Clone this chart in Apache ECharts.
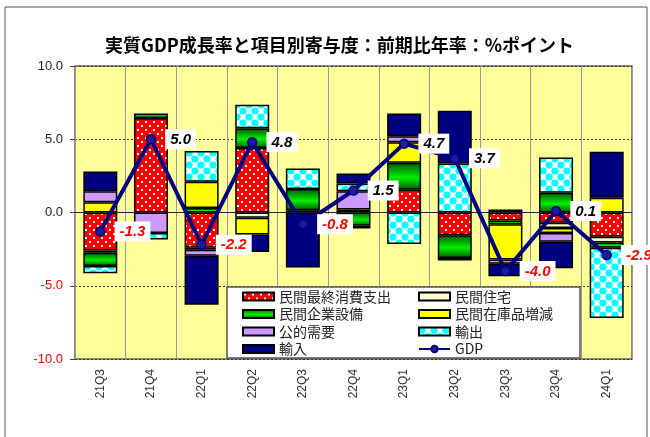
<!DOCTYPE html>
<html>
<head>
<meta charset="utf-8">
<script src="https://cdn.jsdelivr.net/npm/echarts@6/dist/echarts.min.js"></script>
<style>
  html, body { margin: 0; padding: 0; background: #fff; }
  #chart { width: 650px; height: 437px; }
</style>
</head>
<body>
<div id="chart"></div>
<script>
// 四半期
const quarters = ['21Q3', '21Q4', '22Q1', '22Q2', '22Q3', '22Q4', '23Q1', '23Q2', '23Q3', '23Q4', '24Q1']
// 寄与度（%ポイント）
const consumption = [-2.6, 6.45, -2.4, 4.4, 0.15, 0.2, 1.55, -1.55, -0.55, -0.7, -1.65]
const housing = [-0.15, null, -0.15, -0.35, null, null, null, null, null, -0.35, -0.4]
const capex = [-0.9, 0.3, 0.3, 1.35, 1.45, -0.9, 1.85, -1.55, -0.25, 1.35, -0.35]
const inventory = [0.7, null, 1.8, -1.15, null, -0.2, 1.4, -0.18, -2.4, -0.35, 1.0]
const publicDemand = [0.75, -1.4, -0.4, null, null, 1.25, 0.4, null, -0.3, -0.6, null]
const exports = [-0.5, -0.45, 2.1, 1.6, 1.4, 0.53, -2.15, 3.35, 0.2, 2.4, -4.8]
const imports = [1.35, null, -3.35, -1.2, -3.75, 0.68, 1.55, 3.6, -0.85, -1.8, 3.15]
const gdp = [-1.3, 5.0, -2.2, 4.8, -0.8, 1.5, 4.7, 3.7, -4.0, 0.1, -2.9]
const yTicks = [-10, -5, 0, 5, 10]

const JP = '"Noto Sans CJK JP", sans-serif'
const LAT = '"Liberation Sans", Arial, sans-serif'

// 赤地に白い点
function dotPattern() {
  const c = document.createElement('canvas')
  c.width = 8; c.height = 8
  const ctx = c.getContext('2d')
  ctx.fillStyle = '#ff0000'
  ctx.fillRect(0, 0, 8, 8)
  ctx.fillStyle = '#ffffff'
  ctx.fillRect(1, 1, 2, 2)
  ctx.fillRect(5, 5, 2, 2)
  return c
}

// 白地に水色の丸
function bubblePattern() {
  const c = document.createElement('canvas')
  c.width = 12; c.height = 12
  const ctx = c.getContext('2d')
  ctx.fillStyle = '#ffffff'
  ctx.fillRect(0, 0, 12, 12)
  ctx.fillStyle = '#00ffff'
  const pts = [[3, 3], [9, 9], [15, 3], [-3, 9], [3, 15], [9, -3]]
  for (let p of pts) {
    ctx.beginPath()
    ctx.arc(p[0], p[1], 3.6, 0, Math.PI * 2)
    ctx.fill()
  }
  return c
}

const greenGrad = {
  type: 'linear', x: 0, y: 0, x2: 0, y2: 1,
  colorStops: [
    { offset: 0, color: '#005a00' },
    { offset: 0.55, color: '#00f000' },
    { offset: 1, color: '#005a00' }
  ]
}

function barSeries(name, data, color) {
  return {
    name: name,
    type: 'bar',
    stack: 'total',
    barWidth: 34,
    data: data,
    itemStyle: { color: color, borderColor: '#000', borderWidth: 1.5 }
  }
}

const legendText = { fontFamily: JP, fontSize: 14, color: '#222', lineHeight: 17 }

const chart = echarts.init(document.getElementById('chart'))

chart.setOption({
  animation: false,
  backgroundColor: '#fff',
  title: {
    text: '実質GDP成長率と項目別寄与度：前期比年率：%ポイント',
    left: 100,
    top: 31,
    textStyle: { fontFamily: JP, fontSize: 18, fontWeight: 'bold', color: '#000' }
  },
  grid: {
    left: 75, right: 18, top: 66, bottom: 78,
    show: true, backgroundColor: '#ffff99', borderColor: '#666', borderWidth: 1.5
  },
  xAxis: {
    type: 'category',
    data: quarters,
    axisLine: { show: false },
    axisTick: { show: false },
    axisLabel: { rotate: 90, margin: 10, fontFamily: LAT, fontSize: 12, color: '#333' },
    splitLine: { show: true, lineStyle: { color: '#999', width: 1 } }
  },
  yAxis: {
    type: 'value',
    min: yTicks[0], max: yTicks[yTicks.length - 1], interval: 5,
    axisLine: { show: false },
    axisTick: { show: true, length: 5, lineStyle: { color: '#444' } },
    axisLabel: {
      fontFamily: LAT, fontSize: 13, margin: 12,
      formatter: v => v.toFixed(1),
      color: v => (Number(v) < 0 ? '#ff0000' : '#222')
    },
    splitLine: { show: true, lineStyle: { color: '#333', type: [2, 2], width: 1 } }
  },
  legend: [
    {
      orient: 'vertical', left: 242, top: 288, itemGap: 0.5, padding: 0,
      itemWidth: 31, itemHeight: 8, z: 5,
      textStyle: legendText,
      data: [
        { name: '民間最終消費支出', icon: 'rect' },
        { name: '民間企業設備', icon: 'rect' },
        { name: '公的需要', icon: 'rect' },
        { name: '輸入', icon: 'rect' }
      ]
    },
    {
      orient: 'vertical', left: 418, top: 288, itemGap: 0.5, padding: 0,
      itemWidth: 31, itemHeight: 8, z: 5,
      textStyle: legendText,
      data: [
        { name: '民間住宅', icon: 'rect' },
        { name: '民間在庫品増減', icon: 'rect' },
        { name: '輸出', icon: 'rect' },
        { name: 'GDP' }
      ]
    }
  ],
  graphic: [
    {
      type: 'rect', z: 4, silent: true,
      shape: { x: 227, y: 287, width: 353, height: 71 },
      style: { fill: '#fff', stroke: '#555', lineWidth: 1.5 }
    },
    {
      type: 'rect', z: -1, silent: true,
      shape: { x: 5, y: 7, width: 642, height: 440 },
      style: { fill: 'none', stroke: '#555', lineWidth: 1 }
    }
  ],
  series: [
    {
      name: 'zero', type: 'line', data: [], z: 1, silent: true,
      markLine: {
        silent: true, symbol: 'none', label: { show: false },
        lineStyle: { color: '#222', type: 'solid', width: 1.2 },
        data: [{ yAxis: 0 }]
      }
    },
    barSeries('民間最終消費支出', consumption, { image: dotPattern(), repeat: 'repeat' }),
    barSeries('民間住宅', housing, '#ffffcc'),
    barSeries('民間企業設備', capex, greenGrad),
    barSeries('民間在庫品増減', inventory, '#ffff00'),
    barSeries('公的需要', publicDemand, '#cc99ff'),
    barSeries('輸出', exports, { image: bubblePattern(), repeat: 'repeat' }),
    barSeries('輸入', imports, '#000080'),
    {
      name: 'GDP',
      type: 'line',
      data: gdp,
      z: 6,
      symbol: 'circle',
      symbolSize: 9,
      lineStyle: { color: '#000080', width: 4 },
      itemStyle: { color: '#1c1c9a', borderColor: '#000080', borderWidth: 1.5 },
      label: {
        show: true,
        position: 'right',
        distance: 9,
        backgroundColor: '#fff',
        padding: [3, 5, 2, 5],
        formatter: p => (p.value < 0 ? '{n|' : '{p|') + p.value.toFixed(1) + '}',
        rich: {
          p: { color: '#000', fontFamily: LAT, fontSize: 15, fontWeight: 'bold', fontStyle: 'italic' },
          n: { color: '#ff0000', fontFamily: LAT, fontSize: 15, fontWeight: 'bold', fontStyle: 'italic' }
        }
      }
    }
  ]
})
</script>
</body>
</html>
